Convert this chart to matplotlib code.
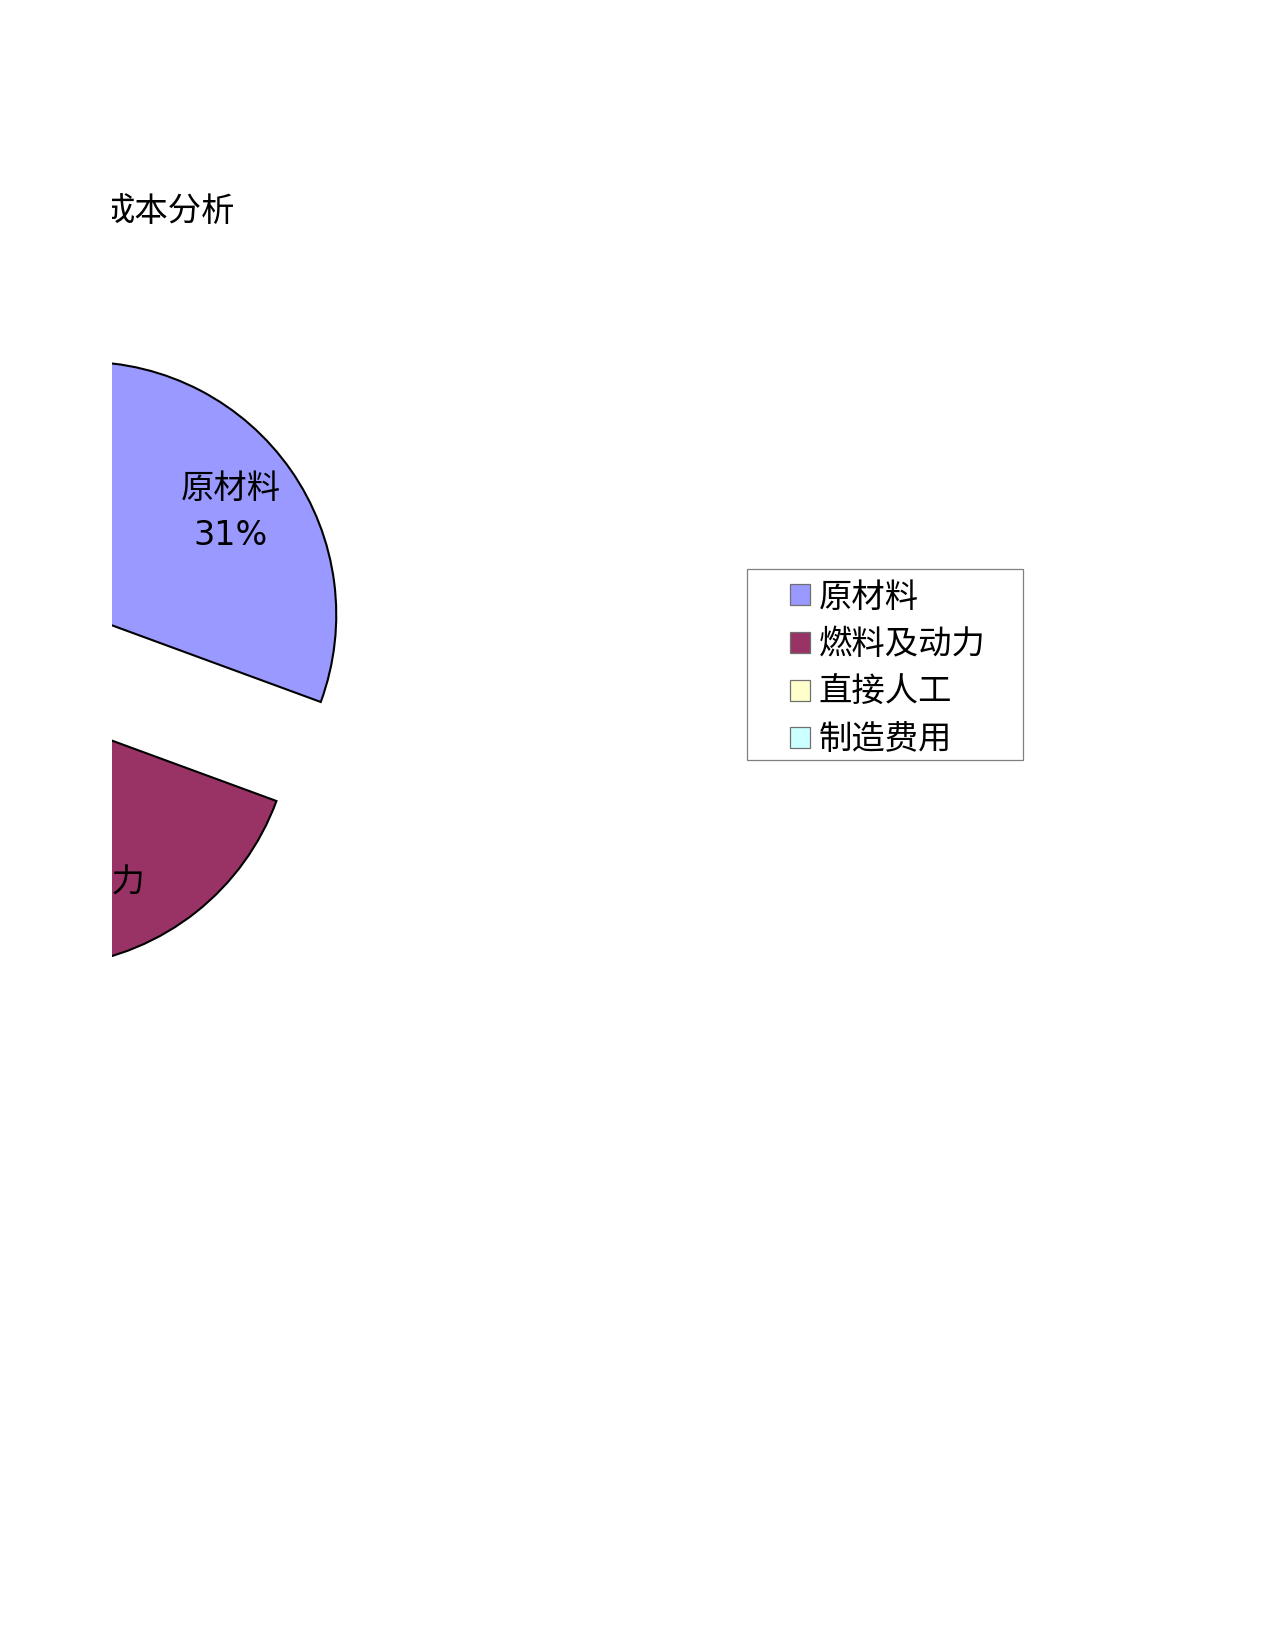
import matplotlib
matplotlib.use('Agg')
import matplotlib.pyplot as plt
from matplotlib.patches import Patch, Rectangle

plt.rcParams['font.family'] = ['DejaVu Sans', 'Noto Sans CJK SC']

title = '成本分析'
names = ['原材料', '燃料及动力', '直接人工', '制造费用']
shares = [30.6, 35.0, 14.4, 20.0]
colors = ['#9999FF', '#993366', '#FFFFCC', '#CCFFFF']

W, H = 1275, 1650
fig = plt.figure(figsize=(8.5, 11), dpi=150)

# axes placed in pixels; pie centre lies left of the visible area (clipped)
ax_l, ax_r, ax_t, ax_b = 112, 720, 150, 1100
cx, cy, rad = 31.4, 651, 253.0
ax = fig.add_axes([ax_l / W, 1 - ax_b / H, (ax_r - ax_l) / W, (ax_b - ax_t) / H])

it = iter(names)
def fmt(p):
    return '%s\n%.0f%%' % (next(it), p)

wedges, texts, autotexts = ax.pie(
    shares, colors=colors, startangle=90, counterclock=False,
    explode=[0.25] * len(shares), radius=1, autopct=fmt, pctdistance=0.71,
    wedgeprops=dict(edgecolor='black', linewidth=1),
    textprops=dict(fontsize=16, color='black'))
for w in wedges:
    w.set_clip_on(True)
    w.set_clip_box(ax.bbox)
for t in autotexts:
    t.set_linespacing(1.55)
    t.set_clip_box(ax.bbox)
    t.set_clip_on(True)

# second label sits a little further out along its wedge
w, t = wedges[1], autotexts[1]
px, py = t.get_position()
wx, wy = w.center
t.set_position((wx + (px - wx) * 1.08, wy + (py - wy) * 1.08))

ax.set_aspect('auto')
ax.set_xlim((ax_l - cx) / rad, (ax_r - cx) / rad)
ax.set_ylim((cy - ax_b) / rad, (cy - ax_t) / rad)
ax.axis('off')

tt = fig.text(235 / W, 1 - 212 / H, title, fontsize=16, va='center', ha='right')
tt.set_clip_box(ax.bbox)
tt.set_clip_on(True)

handles = [Patch(facecolor=c, edgecolor='#707070', linewidth=0.6) for c in colors]
fig.legend(handles, names, loc='center left',
           bbox_to_anchor=(790 / W, 1 - 668.5 / H), frameon=False,
           fontsize=16, borderpad=0, borderaxespad=0,
           handlelength=0.6, handleheight=0.6, handletextpad=0.25,
           labelspacing=0.44)
fig.add_artist(Rectangle((747 / W, 1 - 760 / H), 276 / W, 191 / H,
                         transform=fig.transFigure, fill=False,
                         edgecolor='#808080', linewidth=0.6))

fig.savefig('out.png', dpi=150, facecolor='white')
